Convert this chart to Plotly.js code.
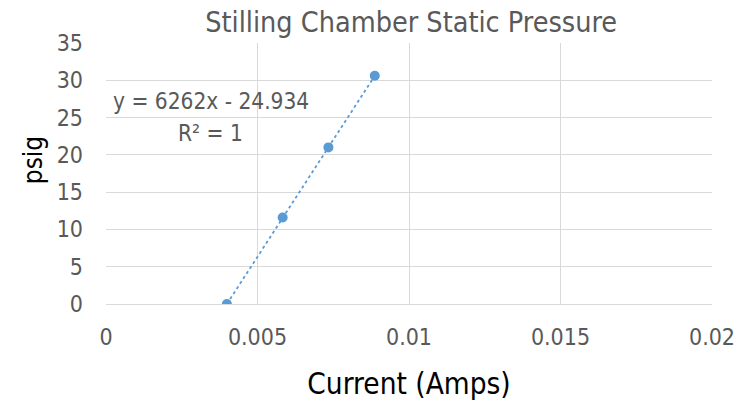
<!DOCTYPE html>
<html><head><meta charset="utf-8">
<script src="https://cdn.plot.ly/plotly-3.0.1.min.js"></script>
<style>html,body{margin:0;padding:0;background:#fff}#chart{width:749px;height:402px}</style>
</head><body><div id="chart"></div>
<script>
const currentAmps = [0.00399, 0.00583, 0.00734, 0.00887];
const pressurePsig = [0, 11.6, 21.0, 30.6];
const chartTitle = "Stilling Chamber Static Pressure";
const xTitle = "Current (Amps)";
const yTitle = "psig";
const equationText = "y = 6262x - 24.934";
const r2Text = "R² = 1";

const FONT = '"DejaVu Sans Condensed", "Liberation Sans Narrow", Lato, sans-serif';
const GREY = '#595959';
const GRID = '#d9d9d9';

const traces = [{
  x: currentAmps, y: pressurePsig, type: 'scatter', mode: 'lines+markers',
  line: {color: '#5b9bd5', width: 1.8, dash: 'dot'},
  marker: {color: '#5b9bd5', size: 10},
  hoverinfo: 'skip', showlegend: false
}];

const layout = {
  width: 749, height: 402,
  margin: {l: 106, r: 37, t: 43, b: 98},
  paper_bgcolor: '#fff', plot_bgcolor: '#fff',
  font: {family: FONT, color: GREY},
  title: {text: chartTitle, font: {size: 28.5, color: GREY, family: FONT}, x: 0.549, xanchor: 'center', y: 0.945, yanchor: 'middle'},
  xaxis: {
    range: [0, 0.02], dtick: 0.005, tick0: 0, showgrid: true, gridcolor: GRID, gridwidth: 1,
    zeroline: false, showline: true, linecolor: GRID, mirror: false, ticks: '',
    tickfont: {size: 23, color: GREY}, ticklabelstandoff: 12, automargin: false,
    title: {text: xTitle, font: {size: 29.5, color: '#000'}, standoff: 24}
  },
  yaxis: {
    range: [0, 35], dtick: 5, tick0: 0, showgrid: true, gridcolor: GRID, gridwidth: 1,
    zeroline: false, showline: false, ticks: '', automargin: false,
    tickfont: {size: 23, color: GREY}, ticklabelstandoff: 22
  },
  annotations: [
    {text: yTitle, xref: 'paper', yref: 'paper', x: -0.12, y: 0.552, xanchor: 'center', yanchor: 'middle', textangle: -90, showarrow: false, font: {size: 26, color: '#000'}},
    {text: equationText, xref: 'paper', yref: 'paper', x: 0.008, y: 0.778, xanchor: 'left', yanchor: 'middle', showarrow: false, font: {size: 22.5, color: GREY}},
    {text: r2Text, xref: 'paper', yref: 'paper', x: 0.172, y: 0.655, xanchor: 'center', yanchor: 'middle', showarrow: false, font: {size: 22.5, color: GREY}}
  ]
};
Plotly.newPlot('chart', traces, layout, {displayModeBar: false, staticPlot: true});
</script></body></html>
